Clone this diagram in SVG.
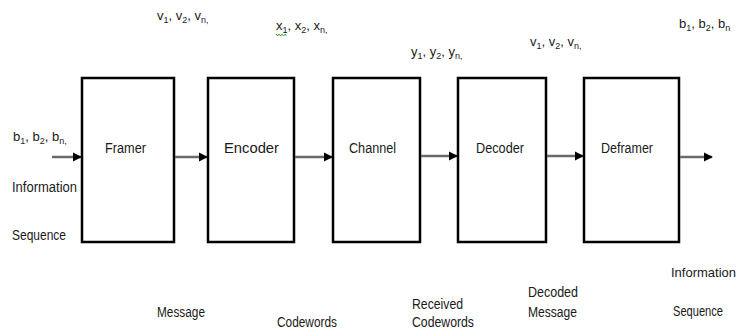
<svg xmlns="http://www.w3.org/2000/svg" width="739" height="331" viewBox="0 0 739 331">
  <style>
    .box { fill: #ffffff; stroke: #000000; stroke-width: 2.5; }
    .lbl { font-family: "Liberation Sans", Arial, sans-serif; font-size: 14px; fill: #1a1a1a; }
    .sym { font-size: 13px; }
    .sub { font-size: 9px; }
    .wire { stroke: #6a6a6a; stroke-width: 2.5; fill: none; }
  </style>
  <defs>
    <marker id="head" viewBox="0 0 10 10" refX="9" refY="5" markerWidth="9" markerHeight="10" markerUnits="userSpaceOnUse" orient="auto">
      <path d="M0,0 L10,5 L0,10 Z" fill="#000000"/>
    </marker>
  </defs>
  <rect width="739" height="331" fill="#ffffff"/>

  <!-- blocks of the chain -->
  <g id="framer">
    <rect class="box" x="82" y="78" width="92" height="164"/>
    <text class="lbl" x="105" y="153" textLength="41" lengthAdjust="spacingAndGlyphs">Framer</text>
  </g>
  <g id="encoder">
    <rect class="box" x="208" y="78" width="86" height="164"/>
    <text class="lbl" x="224" y="153" textLength="55" lengthAdjust="spacingAndGlyphs">Encoder</text>
  </g>
  <g id="channel">
    <rect class="box" x="333" y="78" width="87" height="164"/>
    <text class="lbl" x="349" y="153" textLength="47" lengthAdjust="spacingAndGlyphs">Channel</text>
  </g>
  <g id="decoder">
    <rect class="box" x="458" y="78" width="88" height="164"/>
    <text class="lbl" x="476" y="153" textLength="48" lengthAdjust="spacingAndGlyphs">Decoder</text>
  </g>
  <g id="deframer">
    <rect class="box" x="584" y="78" width="95" height="164"/>
    <text class="lbl" x="601" y="153" textLength="52" lengthAdjust="spacingAndGlyphs">Deframer</text>
  </g>

  <!-- connectors -->
  <g id="connectors">
    <line class="wire" x1="52" y1="157" x2="81" y2="157" marker-end="url(#head)"/>
    <line class="wire" x1="175" y1="157" x2="207" y2="157" marker-end="url(#head)"/>
    <line class="wire" x1="295" y1="157" x2="332" y2="157" marker-end="url(#head)"/>
    <line class="wire" x1="421" y1="156" x2="457" y2="156" marker-end="url(#head)"/>
    <line class="wire" x1="547" y1="156" x2="583" y2="156" marker-end="url(#head)"/>
    <line class="wire" x1="680" y1="157" x2="712" y2="157" marker-end="url(#head)"/>
  </g>

  <!-- signal symbols above the chain -->
  <g id="symbols" class="lbl sym">
    <text x="13" y="141">b<tspan class="sub" dy="3">1</tspan><tspan dy="-3">, b</tspan><tspan class="sub" dy="3">2</tspan><tspan dy="-3">, b</tspan><tspan class="sub" dy="3">n,</tspan></text>
    <text x="157" y="20">v<tspan class="sub" dy="3">1</tspan><tspan dy="-3">, v</tspan><tspan class="sub" dy="3">2</tspan><tspan dy="-3">, v</tspan><tspan class="sub" dy="3">n,</tspan></text>
    <text x="276" y="30">x<tspan class="sub" dy="3">1</tspan><tspan dy="-3">, x</tspan><tspan class="sub" dy="3">2</tspan><tspan dy="-3">, x</tspan><tspan class="sub" dy="3">n,</tspan></text>
    <text x="411" y="56">y<tspan class="sub" dy="3">1</tspan><tspan dy="-3">, y</tspan><tspan class="sub" dy="3">2</tspan><tspan dy="-3">, y</tspan><tspan class="sub" dy="3">n,</tspan></text>
    <text x="530" y="46">v<tspan class="sub" dy="3">1</tspan><tspan dy="-3">, v</tspan><tspan class="sub" dy="3">2</tspan><tspan dy="-3">, v</tspan><tspan class="sub" dy="3">n,</tspan></text>
    <text x="679" y="28">b<tspan class="sub" dy="3">1</tspan><tspan dy="-3">, b</tspan><tspan class="sub" dy="3">2</tspan><tspan dy="-3">, b</tspan><tspan class="sub" dy="3">n</tspan></text>
  </g>
  <!-- spell-check squiggle under x1 -->
  <path d="M276,34 l1.5,2 l1.5,-2 l1.5,2 l1.5,-2 l1.5,2 l1.5,-2 l1.5,2" fill="none" stroke="#3aa02a" stroke-width="0.9"/>

  <!-- descriptive captions -->
  <g id="captions" class="lbl">
    <text x="12" y="192" textLength="65" lengthAdjust="spacingAndGlyphs">Information</text>
    <text x="12" y="240" textLength="54" lengthAdjust="spacingAndGlyphs">Sequence</text>
    <text x="157" y="317" textLength="48" lengthAdjust="spacingAndGlyphs">Message</text>
    <text x="277" y="327" textLength="60" lengthAdjust="spacingAndGlyphs">Codewords</text>
    <text x="412" y="309" textLength="51" lengthAdjust="spacingAndGlyphs">Received</text>
    <text x="412" y="327" textLength="62" lengthAdjust="spacingAndGlyphs">Codewords</text>
    <text x="528" y="297" textLength="50" lengthAdjust="spacingAndGlyphs">Decoded</text>
    <text x="528" y="317" textLength="49" lengthAdjust="spacingAndGlyphs">Message</text>
    <text x="671" y="277" font-size="13">Information</text>
    <text x="673" y="316" textLength="50" lengthAdjust="spacingAndGlyphs">Sequence</text>
  </g>
</svg>
